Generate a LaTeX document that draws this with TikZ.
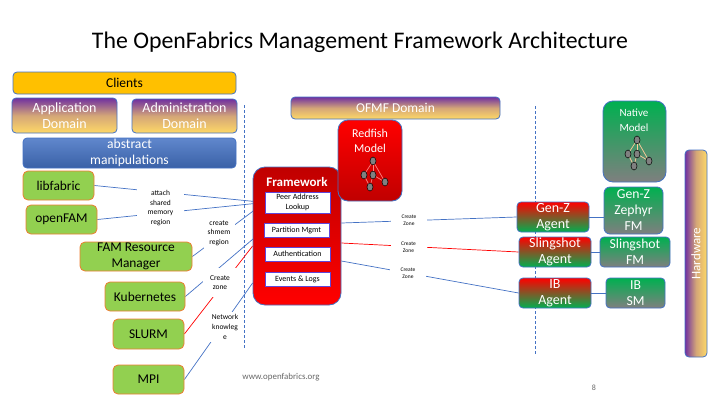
\documentclass[tikz,border=0pt]{standalone}
\usepackage{fontspec}
\setmainfont{Carlito}
\usetikzlibrary{backgrounds,shapes.geometric}
\definecolor{edgeblue}{HTML}{4472C4}
\definecolor{edgeorange}{HTML}{ED7D31}
\definecolor{gold}{HTML}{FFC000}
\definecolor{palegold}{HTML}{FFD966}
\definecolor{domainpurple}{HTML}{7030A0}
\definecolor{clientgreen}{HTML}{92D050}
\definecolor{fmgreen}{HTML}{00B050}
\definecolor{fmgray}{HTML}{7F7F7F}
\definecolor{darkred}{HTML}{C00000}
\tikzset{
    basebox/.style={rounded corners=4pt,draw=edgeblue,line width=0.8pt,align=center,inner sep=0pt,text=white},
    domainbox/.style={basebox,top color=domainpurple,bottom color=palegold,middle color=domainpurple!30!palegold,font=\fontsize{14}{16}\selectfont},
    clientbox/.style={basebox,rounded corners=5pt,draw=edgeorange,fill=clientgreen,text=black,font=\fontsize{13.4}{16}\selectfont},
    agentbox/.style={basebox,top color=red,bottom color=fmgreen,font=\fontsize{14}{16.5}\selectfont},
    fmbox/.style={basebox,top color=fmgreen,bottom color=fmgray,font=\fontsize{13.7}{16}\selectfont},
    servicebox/.style={draw=domainpurple!50!blue!80!white,line width=0.8pt,fill=white,align=center,inner sep=0pt,font=\fontsize{8}{10}\selectfont},
    edgelabel/.style={fill=white,align=center,inner sep=0pt,font=\fontsize{7.5}{9.7}\selectfont},
    zonelabel/.style={edgelabel,font=\fontsize{5.5}{7}\selectfont,minimum width=36pt,minimum height=15pt},
    link/.style={draw=edgeblue,line width=0.7pt},
    redlink/.style={draw=red,line width=0.7pt},
    divider/.style={draw=edgeblue,line width=0.7pt,densely dashed},
    treenode/.style={ellipse,draw=black,fill=gray,line width=0.5pt,minimum width=6pt,minimum height=8pt,inner sep=0pt},
    pics/modeltree/.style={code={
        \node[treenode] (-top) at (9,-14) {};
        \node[treenode] (-left) at (0,0) {};
        \node[treenode] (-mid) at (9,0) {};
        \node[treenode] (-right) at (21,7) {};
        \node[treenode] (-low) at (6,12) {};
        \foreach \a/\b in {top/left,top/mid,top/right,left/low,mid/low,mid/right} {
            \draw[#1,line width=0.7pt] (-\a) -- (-\b);
        }
    }}
}
\begin{document}
\begin{tikzpicture}[x=1pt,y=-1pt]
    \useasboundingbox (0,0) rectangle (720,405);
    \node (title) at (360,42) {\fontsize{23.8}{28}\selectfont The OpenFabrics Management Framework Architecture};

    % client side
    \node[basebox,fill=gold,text=black,minimum width=223pt,minimum height=22pt,font=\fontsize{13.5}{16}\selectfont] (clients) at (124.5,83) {Clients};
    \node[domainbox,minimum width=105pt,minimum height=35pt] (appdomain) at (64.5,115.5) {Application\\Domain};
    \node[domainbox,minimum width=105pt,minimum height=34pt] (admindomain) at (184.5,116) {Administration\\Domain};
    \node[basebox,top color=edgeblue!85!white,bottom color=edgeblue!85!black,minimum width=213pt,minimum height=30pt,font=\fontsize{13.6}{16}\selectfont] (abstract) at (129.5,153) {abstract\\manipulations};
    \node[clientbox,minimum width=71pt,minimum height=29pt] (libfabric) at (58.5,185.5) {libfabric};
    \node[clientbox,minimum width=71pt,minimum height=29pt] (openfam) at (61.5,219.5) {openFAM};
    \node[clientbox,minimum width=112pt,minimum height=29pt] (famrm) at (136,256.5) {FAM Resource\\Manager};
    \node[clientbox,minimum width=80pt,minimum height=29pt] (kubernetes) at (145,296.5) {Kubernetes};
    \node[clientbox,minimum width=71pt,minimum height=30pt] (slurm) at (148.5,334) {SLURM};
    \node[clientbox,minimum width=71pt,minimum height=29pt] (mpi) at (148.5,379.5) {MPI};

    % framework
    \node[basebox,rounded corners=12pt,top color=darkred,bottom color=red,minimum width=88pt,minimum height=138pt] (framework) at (297,236) {};
    \node[text=white,font=\fontsize{13}{16}\selectfont\bfseries] (frameworktitle) at (297,182) {Framework};
    \node[servicebox,minimum width=65pt,minimum height=21pt] (peer) at (297.5,202.5) {Peer Address\\Lookup};
    \node[servicebox,minimum width=65pt,minimum height=14pt] (partition) at (296.5,230) {Partition Mgmt};
    \node[servicebox,minimum width=65pt,minimum height=14pt] (authentication) at (297.5,254) {Authentication};
    \node[servicebox,minimum width=65pt,minimum height=14pt] (events) at (297.5,279) {Events \& Logs};

    \node[basebox,top color=domainpurple,bottom color=palegold,middle color=domainpurple!30!palegold,minimum width=209pt,minimum height=22pt,font=\fontsize{13.5}{16}\selectfont] (ofmf) at (395.5,108) {OFMF Domain};
    \node[basebox,rounded corners=10pt,top color=red,bottom color=darkred,minimum width=64pt,minimum height=81pt] (redfish) at (370,160.5) {};
    \node[text=white,align=center,font=\fontsize{12}{15}\selectfont] (redfishtitle) at (370,141) {Redfish\\Model};
    \pic (rf) at (364,175) {modeltree={draw=red!50!white}};

    % agents and fabric managers
    \node[agentbox,minimum width=72pt,minimum height=30pt] (genzagent) at (553,217) {Gen-Z\\Agent};
    \node[agentbox,minimum width=72pt,minimum height=30pt] (slingagent) at (555,252) {Slingshot\\Agent};
    \node[agentbox,minimum width=72pt,minimum height=30pt] (ibagent) at (555,293) {IB\\Agent};
    \node[fmbox,rounded corners=10pt,minimum width=63pt,minimum height=81pt] (native) at (634.5,141.5) {};
    \node[text=white,align=center,font=\fontsize{11}{15}\selectfont] (nativetitle) at (634,120) {Native\\Model};
    \pic (nm) at (628,154) {modeltree={draw=orange!40!white}};
    \node[fmbox,rounded corners=6pt,minimum width=59pt,minimum height=47pt] (genzfm) at (633.5,210.5) {Gen-Z\\Zephyr\\FM};
    \node[fmbox,minimum width=70pt,minimum height=30pt] (slingfm) at (635,252) {Slingshot\\FM};
    \node[fmbox,minimum width=59pt,minimum height=30pt] (ibsm) at (635.5,293) {IB\\SM};
    \node[basebox,left color=domainpurple,right color=palegold,middle color=domainpurple!30!palegold,minimum width=22pt,minimum height=207pt] (hardware) at (696,253.5) {};
    \node[text=white,rotate=90,font=\fontsize{13}{15}\selectfont] (hardwaretitle) at (696,253.5) {Hardware};

    % labels sit above the connectors
    \node[edgelabel,minimum width=47pt,minimum height=40pt] (attachlabel) at (160.5,208) {attach\\shared\\memory\\region};
    \node[edgelabel,minimum width=31pt,minimum height=33pt] (shmemlabel) at (219,233) {create\\shmem\\region};
    \node[edgelabel,minimum width=35pt,minimum height=29pt] (createlabel) at (220,282.5) {Create\\zone};
    \node[edgelabel,minimum width=30pt,minimum height=30pt] (networklabel) at (225,327) {Network\\knowleg\\e};
    \node[zonelabel] (zonea) at (409,220.5) {Create\\Zone};
    \node[zonelabel] (zoneb) at (408.5,247.5) {Create\\Zone};
    \node[zonelabel] (zonec) at (408,273.5) {Create\\Zone};

    \begin{scope}[on background layer]
        \coordinate (dividera) at (244.5,105);
        \coordinate (divideraend) at (244.5,348);
        \coordinate (dividerb) at (535,106);
        \coordinate (dividerbend) at (535,355);
        \draw[divider] (dividera) -- (divideraend);
        \draw[divider] (dividerb) -- (dividerbend);
        \foreach \a in {libfabric,openfam,famrm} {
            \draw[link] (\a.east) -- (peer.west);
        }
        \draw[link] (kubernetes.east) -- (partition.west);
        \draw[redlink] (slurm.east) -- ([yshift=-10pt]framework.west);
        \draw[link] (mpi.east) -- ([yshift=-47pt]framework.west);
        \draw[link] ([yshift=13pt]framework.east) -- (genzagent.west);
        \draw[redlink] ([yshift=-7pt]framework.east) -- (slingagent.west);
        \draw[link] ([yshift=-25pt]framework.east) -- (ibagent.west);
        \draw[link] (genzagent.east) -- ([yshift=-6.5pt]genzfm.west);
        \foreach \a/\b in {slingagent/slingfm,ibagent/ibsm} {
            \draw[link] (\a.east) -- (\b.west);
        }
    \end{scope}

    \node[text=black!60,font=\fontsize{8.9}{10}\selectfont] (website) at (281,377) {www.openfabrics.org};
    \node[text=black!60,font=\fontsize{8}{9}\selectfont] (pagenumber) at (594,388) {8};
\end{tikzpicture}
\end{document}
